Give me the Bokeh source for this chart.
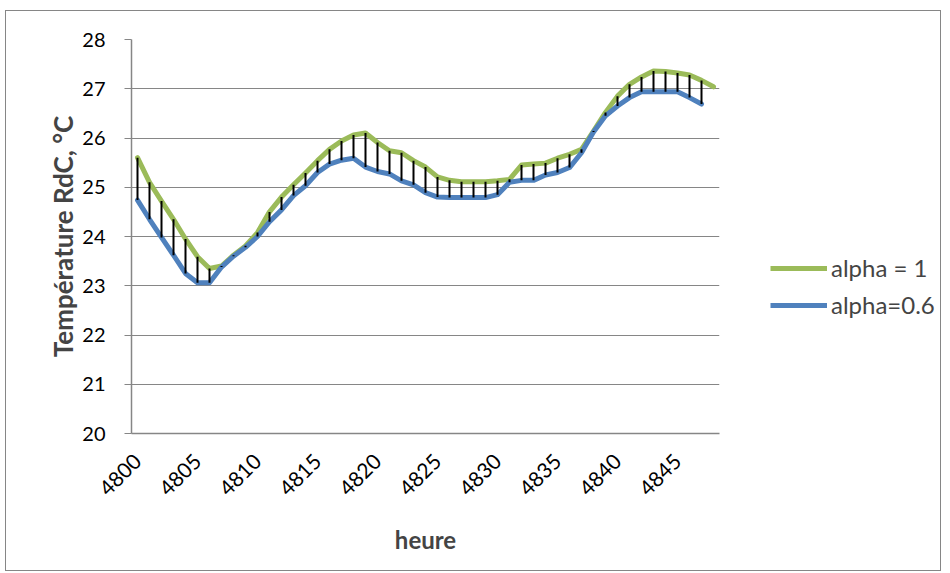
from bokeh.plotting import figure
from bokeh.layouts import row
from bokeh.models import Legend, LegendItem, FixedTicker, Range1d, ColumnDataSource
from bokeh.embed import file_html
from bokeh.resources import INLINE
import math

heures = list(range(4800, 4849))
alpha_1 = [25.60, 25.10, 24.72, 24.35, 23.95, 23.59, 23.35, 23.40, 23.62, 23.81,
           24.08, 24.50, 24.80, 25.05, 25.29, 25.54, 25.77, 25.94, 26.06, 26.10,
           25.91, 25.74, 25.70, 25.54, 25.41, 25.21, 25.14, 25.11, 25.11, 25.11,
           25.13, 25.16, 25.45, 25.47, 25.49, 25.59, 25.67, 25.77, 26.14, 26.52,
           26.85, 27.09, 27.24, 27.36, 27.35, 27.32, 27.28, 27.17, 27.04]
alpha_06 = [24.74, 24.35, 23.98, 23.62, 23.25, 23.06, 23.06, 23.38, 23.60, 23.78,
            24.00, 24.30, 24.54, 24.83, 25.03, 25.30, 25.47, 25.55, 25.59, 25.41,
            25.32, 25.27, 25.13, 25.05, 24.89, 24.80, 24.79, 24.79, 24.79, 24.79,
            24.85, 25.10, 25.14, 25.14, 25.25, 25.30, 25.40, 25.70, 26.12, 26.45,
            26.65, 26.82, 26.94, 26.94, 26.94, 26.94, 26.82, 26.69]
x_ticks = [4800, 4805, 4810, 4815, 4820, 4825, 4830, 4835, 4840, 4845]
y_ticks = [20, 21, 22, 23, 24, 25, 26, 27, 28]
labels = ["alpha = 1", "alpha=0.6"]
colors = ["#9BBB59", "#4F81BD"]

FONT = "Lato"
GRID = "#868686"
H = 559

p = figure(width=725, height=H, output_backend="svg", toolbar_location=None,
           x_range=Range1d(4799.5, 4848.5), y_range=Range1d(20, 28),
           min_border_left=125, min_border_top=28, min_border_right=12,
           min_border_bottom=137)
p.outline_line_color = None
p.background_fill_color = "white"
p.border_fill_color = "white"

p.xgrid.grid_line_color = None
p.ygrid.grid_line_color = GRID
p.ygrid.grid_line_width = 1
p.ygrid.ticker = FixedTicker(ticks=y_ticks)

p.xaxis.ticker = FixedTicker(ticks=x_ticks)
p.xaxis.major_label_orientation = math.pi / 4
p.xaxis.major_tick_line_color = None
p.xaxis.minor_tick_line_color = None
p.xaxis.axis_line_color = GRID
p.xaxis.axis_line_width = 1.5
p.xaxis.axis_label = "heure"
p.xaxis.axis_label_text_font = FONT
p.xaxis.axis_label_text_font_style = "bold"
p.xaxis.axis_label_text_font_size = "24px"
p.xaxis.major_label_text_font = FONT
p.xaxis.major_label_text_font_size = "21px"
p.xaxis.major_label_text_color = "black"
p.xaxis.major_label_standoff = 18
p.xaxis.axis_label_standoff = 19

p.yaxis.ticker = FixedTicker(ticks=y_ticks)
p.yaxis.axis_line_color = GRID
p.yaxis.axis_line_width = 1.5
p.yaxis.major_tick_line_color = GRID
p.yaxis.major_tick_out = 7
p.yaxis.major_tick_in = 0
p.yaxis.minor_tick_line_color = None
p.yaxis.axis_label = "Température RdC, °C"
p.yaxis.axis_label_text_font = FONT
p.yaxis.axis_label_text_font_style = "bold"
p.yaxis.axis_label_text_font_size = "26px"
p.yaxis.major_label_text_font = FONT
p.yaxis.major_label_text_font_size = "20px"
p.yaxis.major_label_text_color = "black"
p.yaxis.major_label_standoff = 19
p.yaxis.axis_label_standoff = 0

src1 = ColumnDataSource(dict(x=heures, y=alpha_1))
src2 = ColumnDataSource(dict(x=heures[:len(alpha_06)], y=alpha_06))
p.line("x", "y", source=src1, line_color=colors[0], line_width=5, line_join="round", line_cap="round")
p.line("x", "y", source=src2, line_color=colors[1], line_width=5, line_join="round", line_cap="round")

n = len(alpha_06)
p.segment(x0=heures[:n], y0=alpha_06, x1=heures[:n], y1=alpha_1[:n],
          line_color="black", line_width=2)

# legend panel (separate figure, lines out of view, only legend shown)
q = figure(width=209, height=H, output_backend="svg", toolbar_location=None,
           x_range=Range1d(0, 1), y_range=Range1d(0, 1),
           x_axis_type=None, y_axis_type=None, min_border=0)
q.outline_line_color = None
q.border_fill_color = "white"
q.background_fill_color = "white"
q.xgrid.grid_line_color = None
q.ygrid.grid_line_color = None
q1 = q.line("x", "y", source=src1, line_color=colors[0], line_width=5)
q2 = q.line("x", "y", source=src2, line_color=colors[1], line_width=5)
legend = Legend(items=[LegendItem(label=labels[0], renderers=[q1]),
                       LegendItem(label=labels[1], renderers=[q2])],
                location=(39, 114), glyph_width=57, glyph_height=20,
                label_standoff=4, spacing=8, padding=0, margin=0,
                label_text_font=FONT, label_text_font_size="24px",
                background_fill_alpha=0, border_line_color=None)
q.add_layout(legend, "center")

layout = row(p, q, spacing=0)
layout.styles = {"outline": "1px solid #868686", "outline-offset": "0px",
                 "margin-left": "6px", "margin-top": "11px"}

open("out.html", "w").write(file_html(layout, INLINE))
